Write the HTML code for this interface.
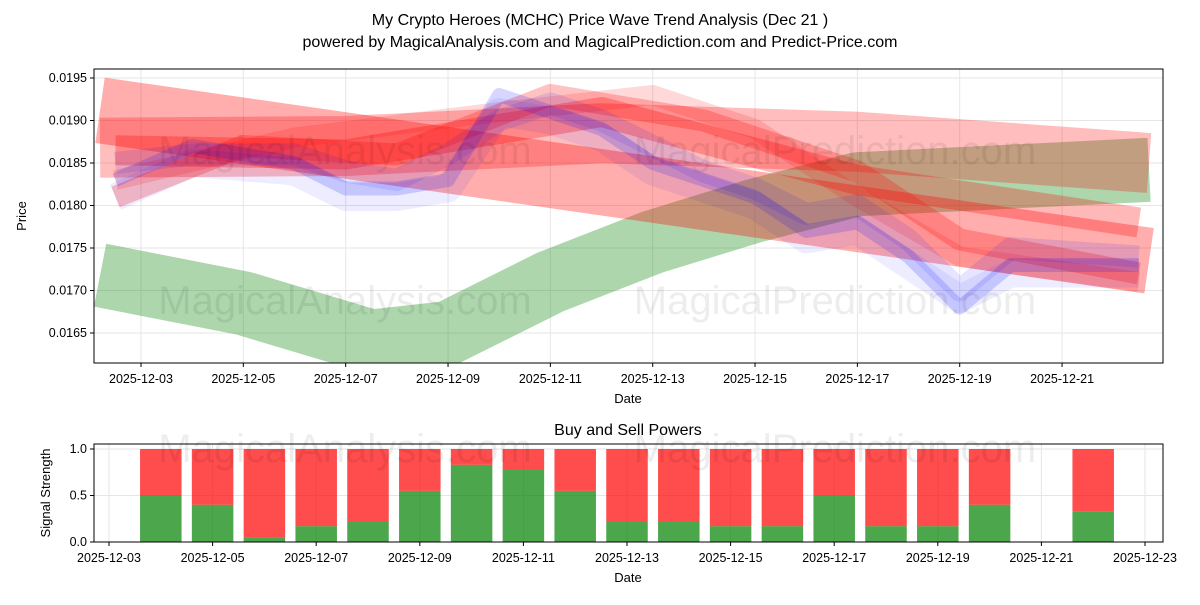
<!DOCTYPE html>
<html><head><meta charset="utf-8"><style>
body{margin:0;background:#fff;font-family:"Liberation Sans",sans-serif}
svg text{font-family:"Liberation Sans","DejaVu Sans",sans-serif}
</style></head><body>
<svg id="c" width="1200" height="600" xmlns="http://www.w3.org/2000/svg">
<defs><clipPath id="cp"><rect x="94" y="69" width="1069" height="294"/></clipPath></defs>
<text x="600" y="25" text-anchor="middle" font-size="16">My Crypto Heroes (MCHC) Price Wave Trend Analysis (Dec 21 )</text>
<text x="600" y="47" text-anchor="middle" font-size="16">powered by MagicalAnalysis.com and MagicalPrediction.com and Predict-Price.com</text>
<g id="topG"></g><g id="botG"></g>
</svg>
<script>
const priceTicks=[0.0165,0.0170,0.0175,0.0180,0.0185,0.0190,0.0195];
const topDays=[3,5,7,9,11,13,15,17,19,21];
const botDays=[3,5,7,9,11,13,15,17,19,21,23];
const barDays=[4,5,6,7,8,9,10,11,12,13,14,15,16,17,18,19,20,22];
const buyVals=[0.5,0.4,0.05,0.17,0.22,0.55,0.83,0.78,0.55,0.22,0.22,0.17,0.17,0.5,0.17,0.17,0.4,0.33];
const greenDays=[2.2,5,7.5,9,11,13,15,17,22.7];
const greenVals=[0.01718,0.01685,0.01640,0.01650,0.0171,0.01757,0.01794,0.01825,0.01842];
const redBands=[
 {d:[2.2,22.7],v:[0.01912,0.01735],w:66,o:0.32},
 {d:[2.2,7,12,17,22.7],v:[0.01868,0.0187,0.01885,0.01875,0.0185],w:60,o:0.26},
 {d:[2.5,7,12,17,22.5],v:[0.01865,0.0186,0.0191,0.0183,0.0178],w:30,o:0.28},
 {d:[2.5,5,8,11,14,17,19,22.5],v:[0.0181,0.0187,0.0186,0.0193,0.019,0.0184,0.0176,0.0172],w:22,o:0.24},
 {d:[2.5,6,10,13,15,17,19,22.5],v:[0.0183,0.0188,0.0191,0.0193,0.0189,0.0181,0.0174,0.0171],w:20,o:0.15}
];
const blueDays=[2.5,4,6,7,8,9,10,11,12,13,14,15,16,17,18,19,20,22.5];
const blueA=[0.0183,0.0187,0.0185,0.0182,0.0182,0.0183,0.0193,0.0191,0.0189,0.0185,0.0183,0.0181,0.0177,0.0178,0.0174,0.0168,0.0173,0.0173];
const blueB=[0.0185,0.0186,0.0186,0.0184,0.0183,0.0186,0.0190,0.0192,0.0190,0.0187,0.0184,0.0182,0.0179,0.0180,0.0176,0.0170,0.0175,0.0174];
const blueC=[0.0181,0.0185,0.0184,0.0181,0.0181,0.0182,0.0191,0.0190,0.0188,0.0184,0.0182,0.0180,0.0176,0.0177,0.0173,0.0169,0.0172,0.0172];
const NS="http://www.w3.org/2000/svg";
function mk(p,t,a){const e=document.createElementNS(NS,t);for(const k in a)e.setAttribute(k,a[k]);p.appendChild(e);return e;}
const L=94,R=1163,T=69,B=363;
const xT=d=>141+(d-3)*51.17, yT=p=>78+(0.0195-p)*85000;
const bT=444,bB=542;
const xB=d=>109+(d-3)*51.8, yB=v=>542-v*93;
const topG=document.getElementById('topG'),botG=document.getElementById('botG');
const svgEl=document.getElementById('c');
priceTicks.forEach(p=>{const g=mk(topG,'line',{x1:L,x2:R,y1:yT(p),y2:yT(p),stroke:'#e6e6e6'});


mk(topG,'line',{x1:L-4,x2:L,y1:yT(p),y2:yT(p),stroke:'#000'});
const t=mk(topG,'text',{x:L-7,y:yT(p)+4,'text-anchor':'end','font-size':12.5});t.textContent=p.toFixed(4);

});
topDays.forEach(d=>{mk(topG,'line',{x1:xT(d),x2:xT(d),y1:T,y2:B,stroke:'#e6e6e6'});
mk(topG,'line',{x1:xT(d),x2:xT(d),y1:B,y2:B+4,stroke:'#000'});
const t=mk(topG,'text',{x:xT(d),y:B+20,'text-anchor':'middle','font-size':12.5});t.textContent='2025-12-'+String(d).padStart(2,'0');

});
[[345,150,'MagicalAnalysis.com'],[835,150,'MagicalPrediction.com'],[345,300,'MagicalAnalysis.com'],[835,300,'MagicalPrediction.com'],[345,448,'MagicalAnalysis.com'],[835,448,'MagicalPrediction.com']].forEach(w=>{
const t=mk(svgEl,'text',{x:w[0],y:w[1]+14,'text-anchor':'middle','font-size':40,fill:'rgba(0,0,0,0.07)'});t.textContent=w[2];

});
const pg=mk(topG,'g',{'clip-path':'url(#cp)'});
function path(ds,vs){return ds.map((d,i)=>(i?'L':'M')+xT(d)+','+yT(vs[i])).join(' ');}
const gp=mk(pg,'path',{d:path(greenDays,greenVals),fill:'none',stroke:'green','stroke-opacity':0.32,'stroke-width':64,'stroke-linejoin':'round'});


redBands.forEach(b=>{const e=mk(pg,'path',{d:path(b.d,b.v),fill:'none',stroke:'red','stroke-opacity':b.o,'stroke-width':b.w,'stroke-linejoin':'round'});

});
[[blueA,14,0.16],[blueB,22,0.1],[blueC,28,0.07]].forEach(s=>{const e=mk(pg,'path',{d:path(blueDays,s[0]),fill:'none',stroke:'blue','stroke-opacity':s[2],'stroke-width':s[1],'stroke-linejoin':'round'});

});
mk(topG,'rect',{x:L,y:T,width:R-L,height:B-T,fill:'none',stroke:'#000'});
let t=mk(topG,'text',{x:628,y:403,'text-anchor':'middle','font-size':13});t.textContent='Date';


t=mk(topG,'text',{x:26,y:216,'text-anchor':'middle','font-size':13,transform:'rotate(-90 26 216)'});t.textContent='Price';


t=mk(botG,'text',{x:628,y:435,'text-anchor':'middle','font-size':16});t.textContent='Buy and Sell Powers';


[0,0.5,1].forEach(v=>{mk(botG,'line',{x1:L,x2:R,y1:yB(v),y2:yB(v),stroke:'#e6e6e6'});
mk(botG,'line',{x1:L-4,x2:L,y1:yB(v),y2:yB(v),stroke:'#000'});
const t=mk(botG,'text',{x:L-7,y:yB(v)+4,'text-anchor':'end','font-size':12.5});t.textContent=v.toFixed(1);

});
botDays.forEach(d=>{mk(botG,'line',{x1:xB(d),x2:xB(d),y1:bT,y2:bB,stroke:'#e6e6e6'});
mk(botG,'line',{x1:xB(d),x2:xB(d),y1:bB,y2:bB+4,stroke:'#000'});
const t=mk(botG,'text',{x:xB(d),y:bB+20,'text-anchor':'middle','font-size':12.5});t.textContent='2025-12-'+String(d).padStart(2,'0');

});
barDays.forEach((d,i)=>{const w=41.5,x=xB(d)-w/2,b=buyVals[i];
const g=mk(botG,'rect',{x:x,y:yB(b),width:w,height:yB(0)-yB(b),fill:'green','fill-opacity':0.7});


const r=mk(botG,'rect',{x:x,y:yB(1),width:w,height:yB(b)-yB(1),fill:'red','fill-opacity':0.7});

});
mk(botG,'rect',{x:L,y:bT,width:R-L,height:bB-bT,fill:'none',stroke:'#000'});
t=mk(botG,'text',{x:628,y:582,'text-anchor':'middle','font-size':13});t.textContent='Date';


t=mk(botG,'text',{x:50,y:493,'text-anchor':'middle','font-size':13,transform:'rotate(-90 50 493)'});t.textContent='Signal Strength';


</script>
</body></html>
